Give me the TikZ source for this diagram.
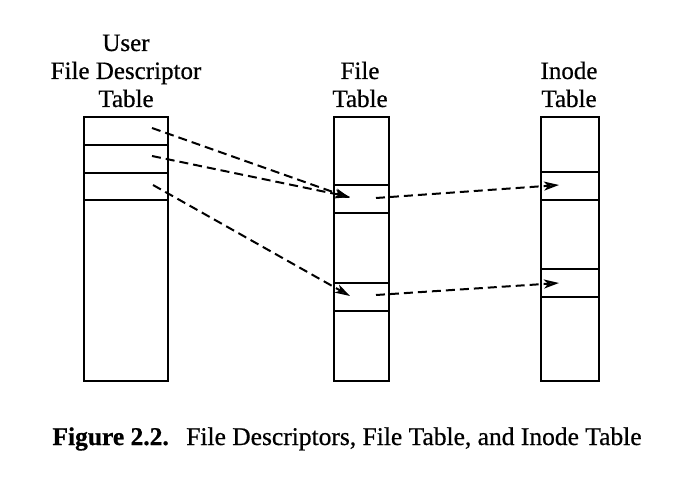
\documentclass[tikz,border=0pt]{standalone}
\usepackage{fontspec}
\setmainfont{Liberation Serif}[FakeBold=0.6]
\usetikzlibrary{arrows.meta}
\begin{document}
\begin{tikzpicture}[x=1pt,y=-1pt,
  tbl/.style={draw, line width=2.2pt, inner sep=0pt, anchor=north west},
  ptr/.style={line width=2pt, dash pattern=on 9pt off 5pt,
    -{Stealth[open,length=15pt,width=9pt,inset=4pt,line width=2pt]}},
  lbl/.style={font=\fontsize{25}{28}\selectfont, align=center, anchor=base, inner sep=0pt},
  captext/.style={font=\fontsize{25.5}{28}\selectfont, anchor=base, inner sep=0pt}]
\useasboundingbox (0,0) rectangle (687,478);
% User file descriptor table
\node[tbl, minimum width=84pt, minimum height=264pt] (ufd) at (83,116) {};
\node[tbl, minimum width=84pt, minimum height=28pt] (u1) at (83,116) {};
\node[tbl, minimum width=84pt, minimum height=28pt] (u2) at (83,144) {};
\node[tbl, minimum width=84pt, minimum height=27pt] (u3) at (83,172) {};
% File table
\node[tbl, minimum width=55pt, minimum height=264pt] (ft) at (333,116) {};
\node[tbl, minimum width=55pt, minimum height=28pt] (f1) at (333,184) {};
\node[tbl, minimum width=55pt, minimum height=28pt] (f2) at (333,282) {};
% Inode table
\node[tbl, minimum width=58pt, minimum height=264pt] (it) at (540,116) {};
\node[tbl, minimum width=58pt, minimum height=28pt] (i1) at (540,171) {};
\node[tbl, minimum width=58pt, minimum height=28pt] (i2) at (540,268) {};
% labels
\node[lbl] (lu1) at (126,51) {User};
\node[lbl] (lu2) at (126,79) {File Descriptor};
\node[lbl] (lu3) at (126,107) {Table};
\node[lbl] (lf1) at (360,79) {File};
\node[lbl] (lf2) at (360,107) {Table};
\node[lbl] (li1) at (569,79) {Inode};
\node[lbl] (li2) at (569,107) {Table};
% pointer coordinates
\coordinate (a1) at (152,128);
\coordinate (a2) at (152,156);
\coordinate (a3) at (153,185);
\coordinate (b1) at (350,198);
\coordinate (b2) at (350,197);
\coordinate (b3) at (350,296);
\coordinate (c1) at (376,198);
\coordinate (c2) at (376,295);
\coordinate (d1) at (559,185);
\coordinate (d2) at (559,283);
\draw[ptr] (a1) -- (b1);
\draw[ptr] (a2) -- (b2);
\draw[ptr] (a3) -- (b3);
\draw[ptr] (c1) -- (d1);
\draw[ptr] (c2) -- (d2);
% caption
\node[captext] (caption) at (347,445) {\textbf{Figure 2.2.}\hspace{0.35em} File Descriptors, File Table, and Inode Table};
\end{tikzpicture}
\end{document}
